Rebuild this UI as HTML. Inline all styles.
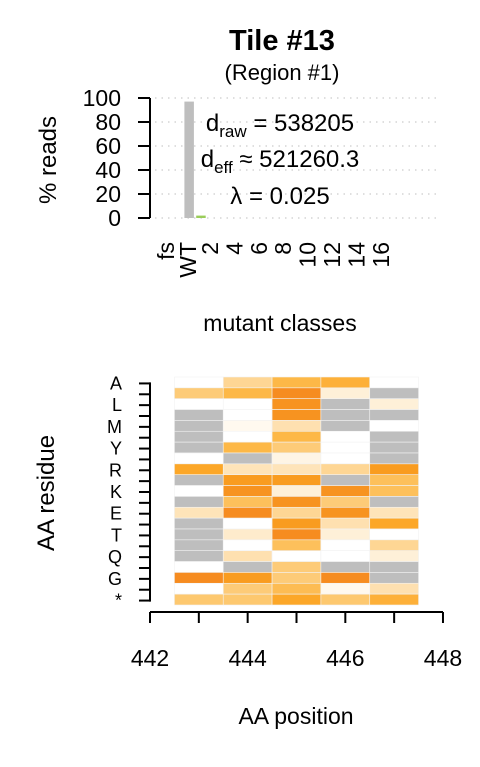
<!DOCTYPE html>
<html><head><meta charset="utf-8"><style>
body{margin:0;background:#fff;font-family:"Liberation Sans",Arial,sans-serif}
svg text{font-family:"Liberation Sans",Arial,sans-serif}
</style></head><body>
<svg id="c" width="480" height="762" xmlns="http://www.w3.org/2000/svg">
<text x="282" y="50" font-size="29" font-weight="bold" text-anchor="middle">Tile #13</text>
<text x="282" y="80" font-size="22" text-anchor="middle">(Region #1)</text>
<text transform="translate(56,160) rotate(-90)" font-size="24" text-anchor="middle">% reads</text>
<text x="280" y="331" font-size="23" text-anchor="middle">mutant classes</text>
<g id="bars"></g>
<text x="280" y="131" font-size="24" text-anchor="middle">d<tspan font-size="17" dy="6">raw</tspan><tspan dy="-6"> = 538205</tspan></text>
<text x="280" y="167" font-size="24" text-anchor="middle">d<tspan font-size="17" dy="6">eff</tspan><tspan dy="-6"> ≈ 521260.3</tspan></text>
<text x="280" y="204" font-size="24" text-anchor="middle">λ = 0.025</text>
<text transform="translate(54,493) rotate(-90)" font-size="24" text-anchor="middle">AA residue</text>
<text x="296" y="724" font-size="23" text-anchor="middle">AA position</text>
<g id="heat"></g>
</svg>
<script>
const NS="http://www.w3.org/2000/svg";
const barClasses=["fs","WT","1","2","3","4","5","6","7","8","9","10","11","12","13","14","15","16"];
const barValues=[0,97,2,0,0,0,0,0,0,0,0,0,0,0,0,0,0,0];
const barColors=[null,"#bebebe","#9acd5a"];
const yTicks=[0,20,40,60,80,100];
const xTickLabels=["fs","WT","2","4","6","8","10","12","14","16"];

const positions=[443,444,445,446,447];
const residues=["A","V","L","I","M","F","Y","W","R","H","K","D","E","S","T","N","Q","C","G","P","*"];
const shownResidues=["A","L","M","Y","R","K","E","T","Q","G","*"];
const xAxisTicks=[442,443,444,445,446,447,448];
const xAxisLabels=[442,444,446,448];
const N=null;
const scores=[
[0,0.35,0.62,0.68,0],
[0.45,0.62,1,0.12,N],
[0,0,0.93,N,0.12],
[N,0,0.93,N,N],
[N,0.05,0.25,N,0],
[N,0,0.62,0,N],
[N,0.62,0.45,0,N],
[0,N,0.08,0,N],
[0.75,0.22,0.22,0.35,0.85],
[N,0.85,0.85,N,0.55],
[0,0.93,0.12,0.93,0.55],
[N,0.55,0.93,0.45,N],
[0.22,1,0.35,0.93,0.22],
[N,0,0.85,0.25,0.75],
[N,0.16,1,0.12,0],
[N,0,0.55,0,0.35],
[N,0.25,0,0,0.12],
[0,N,0.45,N,N],
[1,0.85,0.45,1,N],
[0,0.45,0.58,0.05,0.25],
[0.48,0.48,0.75,0.48,0.68]];

const svg=document.getElementById('c');
function el(t,a,p){const e=document.createElementNS(NS,t);for(const k in a)e.setAttribute(k,a[k]);(p||svg).appendChild(e);return e;}
const by=v=>218-v*1.2;
const bx=i=>177.4+(i-1)*11.8;
function labelX(s){if(s==="fs")return 166;if(s==="WT")return 188;return 210+(parseInt(s)-2)*12.2;}
const bg=document.getElementById('bars');
yTicks.forEach(v=>{
 const g=el('line',{x1:155,x2:440,y1:by(v),y2:by(v),stroke:'#ccc','stroke-dasharray':'1.5,5','stroke-width':1.2},bg);
 
 
 const t=el('line',{x1:138,x2:150,y1:by(v),y2:by(v),stroke:'#000','stroke-width':2},bg);
 
 
 const l=el('text',{x:121,y:by(v)+8,'font-size':23,'text-anchor':'end'},bg);l.textContent=v;
 
 
});
const ax=el('line',{x1:150,x2:150,y1:by(0),y2:by(100),stroke:'#000','stroke-width':2},bg);


barValues.forEach((v,i)=>{
 if(v<=0)return;
 const r=el('rect',{x:bx(i)+7,y:by(v),width:9.5,height:by(0)-by(v),fill:barColors[i]||'#bebebe'},bg);
 
 
});
xTickLabels.forEach(s=>{
 const t=el('text',{transform:`translate(${labelX(s)+8},242) rotate(-90)`,'font-size':23,'text-anchor':'end'},bg);
 t.textContent=s;
 
 
});
const hg=document.getElementById('heat');
const X0=150,PX=48.83,Y0=377,RH=(605-377)/residues.length;
const hx=p=>X0+(p-442)*PX;
const hy=i=>Y0+i*RH;
const stops=[[0,[255,255,255]],[0.12,[254,240,216]],[0.25,[254,224,176]],[0.45,[253,203,120]],[0.62,[253,184,71]],[0.75,[252,167,40]],[0.85,[249,156,32]],[1,[246,140,32]]];
function col(v){if(v===null)return '#bebebe';for(let k=1;k<stops.length;k++){if(v<=stops[k][0]){const a=stops[k-1],b=stops[k],f=(v-a[0])/(b[0]-a[0]);return 'rgb('+a[1].map((c,j)=>Math.round(c+(b[1][j]-c)*f)).join(',')+')';}}return 'rgb(246,140,32)';}
residues.forEach((r,i)=>{
 positions.forEach((p,j)=>{
  const c=el('rect',{x:hx(p)-PX/2,y:hy(i),width:PX,height:RH,fill:col(scores[i][j]),stroke:'#f2f2f2','stroke-width':0.6},hg);
  
  
 });
 const t=el('line',{x1:139,x2:150,y1:hy(i)+RH/2+1,y2:hy(i)+RH/2+1,stroke:'#000','stroke-width':2},hg);
 
 
 if(shownResidues.includes(r)){
  const l=el('text',{x:122,y:hy(i)+RH/2+7,'font-size':18,'text-anchor':'end'},hg);l.textContent=r;
  
  
 }
});
const hya=el('line',{x1:150,x2:150,y1:hy(0)+RH/2,y2:hy(20)+RH/2+2,stroke:'#000','stroke-width':2},hg);


const hxa=el('line',{x1:hx(442),x2:hx(448),y1:612,y2:612,stroke:'#000','stroke-width':2},hg);


xAxisTicks.forEach(p=>{
 const t=el('line',{x1:hx(p),x2:hx(p),y1:612,y2:623,stroke:'#000','stroke-width':2},hg);
 
 
});
xAxisLabels.forEach(p=>{
 const l=el('text',{x:hx(p),y:666,'font-size':23,'text-anchor':'middle'},hg);l.textContent=p;
 
 
});
</script>
</body></html>
